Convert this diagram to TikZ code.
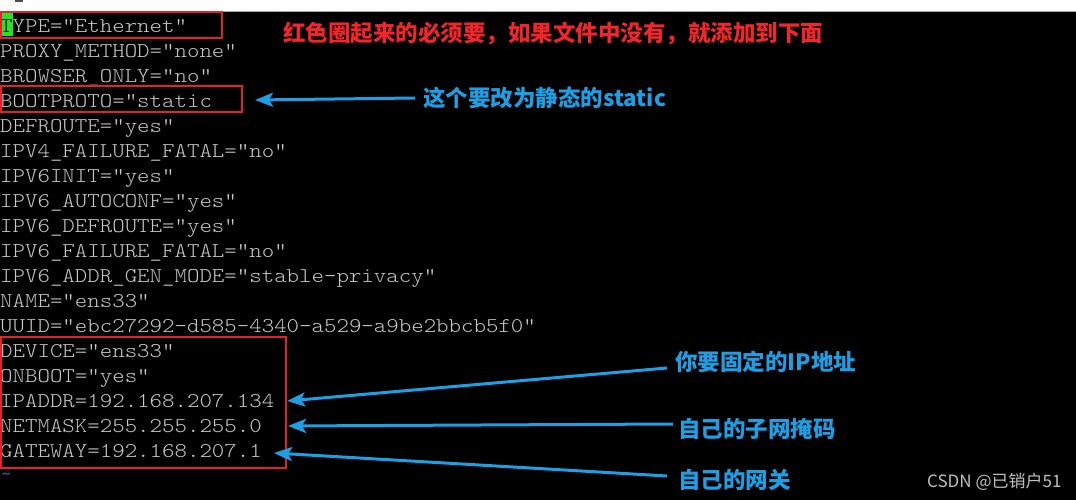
\documentclass[tikz,border=0pt]{standalone}
\usepackage{fontspec}
\newfontfamily\monof{lmmonolt10-regular.otf}[FakeStretch=1.13]
\newfontfamily\cjk{Noto Sans CJK SC}
\usetikzlibrary{arrows.meta}
\definecolor{termfg}{HTML}{C8C8C8}
\definecolor{boxred}{HTML}{E3222B}
\definecolor{txtred}{HTML}{F0262A}
\definecolor{annblue}{HTML}{1E9FE3}
\definecolor{cursorgreen}{HTML}{22E622}
\definecolor{tildeblue}{HTML}{5A5AE6}
\definecolor{wmgray}{HTML}{C0C0C0}
\begin{document}
\begin{tikzpicture}[x=1pt,y=-1pt,
  cfg/.style={font=\monof\fontsize{21}{25}\selectfont, text=termfg, inner sep=0pt, anchor=base west},
  redbox/.style={draw=boxred, line width=2.2pt},
  note/.style={font=\cjk\bfseries\fontsize{22.5}{26}\selectfont, inner sep=0pt, anchor=west},
  rednote/.style={note, text=txtred},
  bluenote/.style={note, text=annblue},
  arr/.style={draw=annblue, line width=3pt, -{Stealth[length=18pt,width=14pt,inset=4pt]}},
]
\useasboundingbox (0,0) rectangle (1076,500);
\fill[white] (0,0) rectangle (1076,11);
\fill[black] (0,11) rectangle (1076,500);
\draw[gray!70, line width=1pt] (0,11.5) -- (1076,11.5);
\fill[gray!60!black] (15,0) rectangle (23,2.5);
% cursor
\fill[cursorgreen] (0,13) rectangle (12.5,36);
% config lines
\node[cfg] (c1)  at (0,33)    {\textcolor{black}{T}YPE="Ethernet"};
\node[cfg] (c2)  at (0,57.95) {PROXY\_METHOD="none"};
\node[cfg] (c3)  at (0,82.9)  {BROWSER\_ONLY="no"};
\node[cfg] (c4)  at (0,107.85){BOOTPROTO="static};
\node[cfg] (c5)  at (0,132.8) {DEFROUTE="yes"};
\node[cfg] (c6)  at (0,157.75){IPV4\_FAILURE\_FATAL="no"};
\node[cfg] (c7)  at (0,182.7) {IPV6INIT="yes"};
\node[cfg] (c8)  at (0,207.65){IPV6\_AUTOCONF="yes"};
\node[cfg] (c9)  at (0,232.6) {IPV6\_DEFROUTE="yes"};
\node[cfg] (c10) at (0,257.55){IPV6\_FAILURE\_FATAL="no"};
\node[cfg] (c11) at (0,282.5) {IPV6\_ADDR\_GEN\_MODE="stable-privacy"};
\node[cfg] (c12) at (0,307.45){NAME="ens33"};
\node[cfg] (c13) at (0,332.4) {UUID="ebc27292-d585-4340-a529-a9be2bbcb5f0"};
\node[cfg] (c14) at (0,357.35){DEVICE="ens33"};
\node[cfg] (c15) at (0,382.3) {ONBOOT="yes"};
\node[cfg] (c16) at (0,407.25){IPADDR=192.168.207.134};
\node[cfg] (c17) at (0,432.2) {NETMASK=255.255.255.0};
\node[cfg] (c18) at (0,457.15){GATEWAY=192.168.207.1};
\node[cfg, text=tildeblue] (c19) at (0,480){\textasciitilde};
% red boxes
\draw[redbox] (1.2,12) rectangle (222,38);
\draw[redbox] (1.2,86) rectangle (242,112);
\draw[redbox] (1.2,337) rectangle (286,468);
% annotations
\node[rednote]  (title) at (283,33)  {红色圈起来的必须要，如果文件中没有，就添加到下面};
\node[bluenote] (n1)    at (423,98)  {这个要改为静态的static};
\node[bluenote] (n2)    at (675,362) {你要固定的IP地址};
\node[bluenote] (n3)    at (678,429) {自己的子网掩码};
\node[bluenote] (n4)    at (678,480) {自己的网关};
\node[font=\cjk\fontsize{17}{20}\selectfont, text=wmgray, anchor=west, inner sep=0pt] (wm) at (927,482) {CSDN @已销户51};
% arrow endpoints
\coordinate (s1) at (415,98);  \coordinate (t1) at (255,100);
\coordinate (s2) at (667,368); \coordinate (t2) at (287,401);
\coordinate (s3) at (673,424); \coordinate (t3) at (288,426);
\coordinate (s4) at (667,476); \coordinate (t4) at (274,453);
\draw[arr] (s1) -- (t1);
\draw[arr] (s2) -- (t2);
\draw[arr] (s3) -- (t3);
\draw[arr] (s4) -- (t4);
\end{tikzpicture}
\end{document}
